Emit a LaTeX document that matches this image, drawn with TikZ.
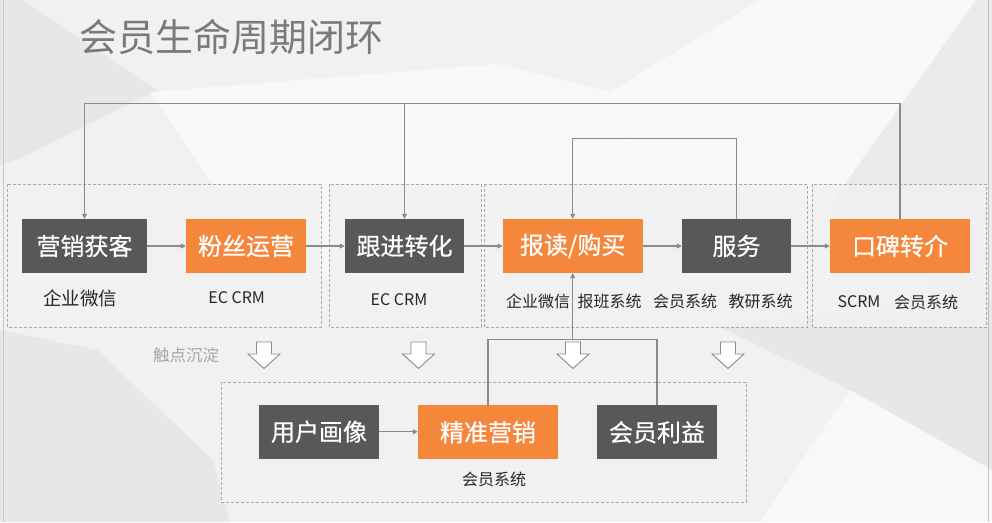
\documentclass[tikz,border=0pt]{standalone}
\usepackage{fontspec}
\setmainfont{Noto Sans CJK SC}
\newfontfamily\boxfont[FakeBold=0.5]{Noto Sans CJK SC}
\usetikzlibrary{arrows.meta}
\definecolor{boxdark}{HTML}{585858}
\definecolor{boxorange}{HTML}{F5873D}
\definecolor{linegray}{HTML}{8A8A8A}
\definecolor{dashgray}{HTML}{A8A8A8}
\definecolor{labeltext}{HTML}{262626}
\definecolor{titletext}{HTML}{7A7A7A}
\definecolor{hinttext}{HTML}{A6A6A6}
\definecolor{bgbase}{HTML}{F1F1F1}
\definecolor{bgdark}{HTML}{E7E7E7}
\definecolor{bglight}{HTML}{F8F8F8}
\begin{document}
\begin{tikzpicture}[x=1pt,y=-1pt,
  stagebox/.style={draw=none, text=white, font=\boxfont\fontsize{24}{24}\selectfont,
    minimum height=54pt, inner sep=0pt, anchor=center},
  darkbox/.style={stagebox, fill=boxdark},
  orangebox/.style={stagebox, fill=boxorange},
  groupbox/.style={draw=dashgray, dash pattern=on 3pt off 2pt, line width=0.8pt,
    fill=bgbase, fill opacity=0.8},
  lbl/.style={text=labeltext, font=\fontsize{16}{16}\selectfont, inner sep=0pt},
  conn/.style={draw=linegray, line width=1.1pt},
  arr/.style={conn, -{Triangle[length=5pt,width=5pt]}},
  hollow/.style={draw=linegray, fill=white, line width=0.9pt, line join=miter}
]
\useasboundingbox (0,0) rectangle (992,522);
% background
\fill[bgbase] (0,0) rectangle (992,522);
\fill[bgdark] (0,0) -- (23,0) -- (157,90) -- (17,160) -- (0,165) -- cycle;
\fill[bgdark] (0,330) -- (97,350) -- (213,460) -- (230,522) -- (0,522) -- cycle;
\fill[bglight] (150,92) -- (496,64) -- (610,92) -- (655,185) -- (420,330) -- (250,240) -- cycle;
\fill[bglight] (610,92) -- (760,0) -- (976,0) -- (830,205) -- (655,185) -- cycle;
\fill[bgdark!60!bgbase] (976,0) -- (992,0) -- (992,330) -- (830,205) -- cycle;
\fill[bgdark] (716,325) -- (992,300) -- (992,470) -- (850,390) -- cycle;
\fill[bglight] (850,390) -- (992,470) -- (992,522) -- (760,522) -- cycle;
\draw[draw=black!22, line width=1pt] (3,0) -- (3,522);
\draw[draw=black!25, line width=1.2pt] (988.5,0) -- (988.5,522);

% title
\node[font=\fontsize{38}{38}\selectfont, text=titletext, inner sep=0pt] (title) at (231.5,36.5) {会员生命周期闭环};

% group frames
\draw[groupbox] (7,184) rectangle (321,327);
\draw[groupbox] (329,184) rectangle (481,327);
\draw[groupbox] (484,184) rectangle (807.5,327);
\draw[groupbox] (812,184) rectangle (986.5,327);
\draw[groupbox] (221,382) rectangle (746,502);

% stage boxes
\node[darkbox, minimum width=125pt] (yx) at (84.5,246) {营销获客};
\node[orangebox, minimum width=120pt] (fs) at (246,246) {粉丝运营};
\node[darkbox, minimum width=119pt] (gj) at (404.5,246) {跟进转化};
\node[orangebox, minimum width=140pt] (bd) at (572.7,246) {报读/购买};
\node[darkbox, minimum width=109pt] (fw) at (736.5,246) {服务};
\node[orangebox, minimum width=140pt] (kb) at (900,246) {口碑转介};

\node[darkbox, minimum width=120pt] (yh) at (319,431.7) {用户画像};
\node[orangebox, minimum width=140pt] (jz) at (488,432.3) {精准营销};
\node[darkbox, minimum width=120pt] (hy) at (657,432.3) {会员利益};

% labels
\node[lbl, font=\fontsize{18.5}{18.5}\selectfont] (l1) at (80,298.5) {企业微信};
\node[lbl] (l2) at (236.7,298) {EC CRM};
\node[lbl] (l3) at (399,300) {EC CRM};
\node[lbl] (l4) at (538,301) {企业微信};
\node[lbl] (l5) at (609.7,301) {报班系统};
\node[lbl] (l6) at (685,301) {会员系统};
\node[lbl] (l7) at (760.5,301) {教研系统};
\node[lbl] (l8) at (859,302) {SCRM};
\node[lbl] (l9) at (926,302) {会员系统};
\node[lbl] (l10) at (494,479) {会员系统};
\node[lbl, text=hinttext, font=\fontsize{16.5}{16.5}\selectfont] (hint) at (186,355) {触点沉淀};

% rails
\coordinate (toprail) at (0,103.3);
\coordinate (midrail) at (0,138.3);
\coordinate (lowrail) at (0,339.3);

% connectors
\draw[arr] (yx) -- (fs);
\draw[arr] (fs) -- (gj);
\draw[arr] (gj) -- (bd);
\draw[arr] (bd) -- (fw);
\draw[arr] (fw) -- (kb);
\draw[arr] (yh.east) -- (jz.west |- yh.east);
\draw[arr] (kb.north) -- (kb.north |- toprail) -| (yx.north);
\draw[arr] (gj.north |- toprail) -- (gj.north);
\draw[arr] (fw.north) -- (fw.north |- midrail) -| (bd.north);
\draw[conn] (jz.north) -- (jz.north |- lowrail) -| (hy.north);
\draw[arr] (bd.south |- lowrail) -- (bd.south);

% hollow down arrows
\foreach \cx in {264,418.5,573,728} {
  \draw[hollow] (\cx-7.5,342) -- (\cx+7.5,342) -- (\cx+7.5,354) -- (\cx+16,354)
    -- (\cx,368.5) -- (\cx-16,354) -- (\cx-7.5,354) -- cycle;
}
\end{tikzpicture}
\end{document}
